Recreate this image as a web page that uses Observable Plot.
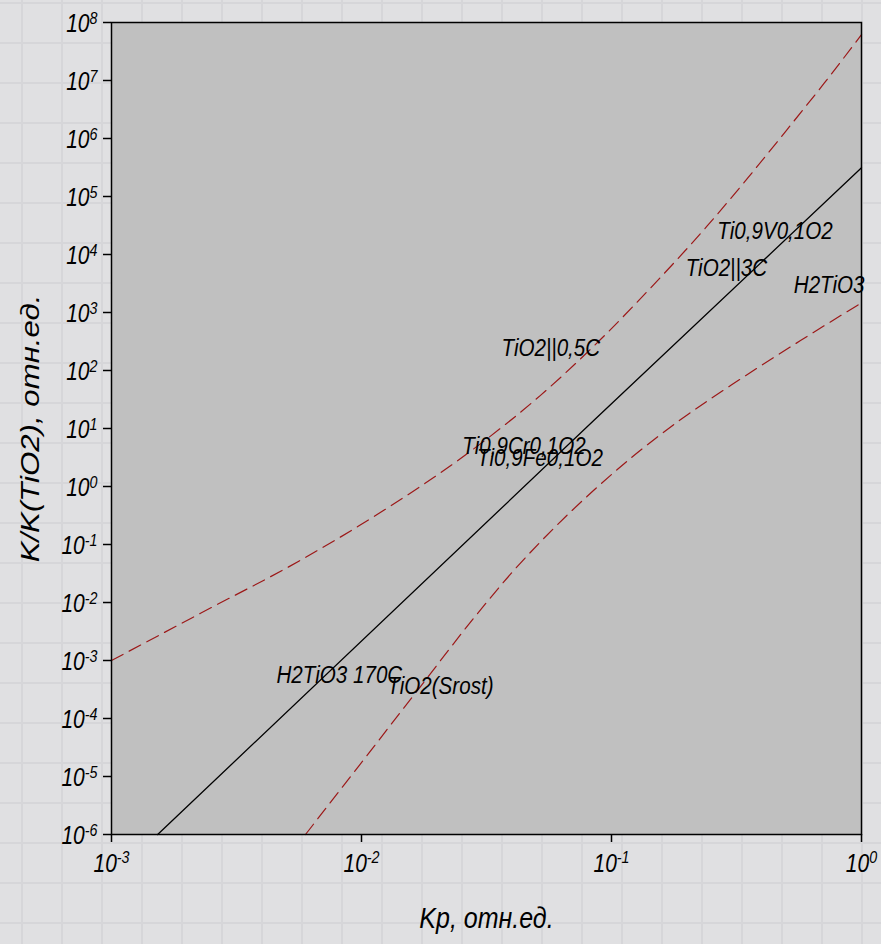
<!DOCTYPE html>
<html>
<head>
<meta charset="utf-8">
<script src="https://cdn.jsdelivr.net/npm/d3@7"></script>
<script src="https://cdn.jsdelivr.net/npm/@observablehq/plot@0.6"></script>
<style>
html, body { margin: 0; padding: 0; }
body {
  width: 881px; height: 944px; overflow: hidden;
  background-color: #e0e0e2;
  background-image:
    linear-gradient(to right, #d6d6d9 2px, transparent 2px),
    linear-gradient(to bottom, #d6d6d9 2px, transparent 2px);
  background-size: 40px 40px;
  background-position: 21px 2px;
}
#chart svg { display: block; }
</style>
</head>
<body>
<div id="chart"></div>
<script>
// Regression line K/K(TiO2) vs Kp in log–log coordinates
const fitKp = [0.00153, 0.0849, 1];
const fitK  = [1e-6, 13.7, 3.12e5];

// Upper confidence limit
const upperKp = [0.001, 0.00227, 0.005702, 0.01228, 0.02729, 0.052, 0.09036, 0.1476, 0.2414, 0.349, 0.4966, 0.7067, 1];
const upperK  = [0.001, 0.00652, 0.0535, 0.389, 4.05, 37.3, 342, 3030, 3.11e4, 2.03e5, 1.32e6, 8.81e6, 6.17e7];

// Lower confidence limit
const lowerKp = [0.00597, 0.009908, 0.01722, 0.02904, 0.04064, 0.05875, 0.08492, 0.1191, 0.1832, 0.3281, 0.5701, 1];
const lowerK  = [1e-6, 1.655e-5, 3.56e-4, 6.38e-3, 0.0356, 0.190, 0.860, 3.05, 12.9, 71.3, 328, 1469];

// Sample labels and where they sit
const labelText = ["Ti0,9V0,1O2", "TiO2||3C", "H2TiO3", "TiO2||0,5C", "Ti0,9Cr0,1O2", "Ti0,9Fe0,1O2", "H2TiO3 170C", "TiO2(Srost)"];
const labelKp   = [0.265, 0.198, 0.536, 0.0363, 0.0253, 0.0290, 0.00457, 0.01268];
const labelK    = [2.5e4, 5.85e3, 2.98e3, 244, 4.93, 3.14, 5.5e-4, 3.63e-4];

// Decade ticks
const xTicks = [1e-3, 1e-2, 1e-1, 1];
const xExp   = ["-3", "-2", "-1", "0"];
const yTicks = [1e-6, 1e-5, 1e-4, 1e-3, 1e-2, 1e-1, 1, 1e1, 1e2, 1e3, 1e4, 1e5, 1e6, 1e7, 1e8];
const yExp   = ["-6", "-5", "-4", "-3", "-2", "-1", "0", "1", "2", "3", "4", "5", "6", "7", "8"];

const xTitle = "Kp, отн.ед.";
const yTitle = "K/K(TiO2), отн.ед.";

const toRows = (xs, ys) => xs.map((v, i) => ({Kp: v, K: ys[i]}));
const fit = toRows(fitKp, fitK);
const upper = toRows(upperKp, upperK);
const lower = toRows(lowerKp, lowerK);
const labels = labelText.map((t, i) => ({text: t, Kp: labelKp[i], K: labelK[i]}));

const band = "#9c1818";
const font = {fontStyle: "italic", fill: "#000"};

const chart = Plot.plot({
  width: 881,
  height: 944,
  marginTop: 22,
  marginRight: 20,
  marginBottom: 110,
  marginLeft: 111,
  style: {background: "transparent", fontFamily: "'Liberation Sans', Arial, sans-serif", color: "#000"},
  x: {type: "log", domain: [1e-3, 1]},
  y: {type: "log", domain: [1e-6, 1e8]},
  marks: [
    Plot.frame({fill: "#c0c0c0"}),
    Plot.line(fit, {x: "Kp", y: "K", stroke: "#000", strokeWidth: 1.3}),
    Plot.line(upper, {x: "Kp", y: "K", stroke: band, strokeWidth: 1.2, strokeDasharray: "13,7", curve: "monotone-x"}),
    Plot.line(lower, {x: "Kp", y: "K", stroke: band, strokeWidth: 1.2, strokeDasharray: "13,7", curve: "monotone-x"}),
    Plot.text(labels, {x: "Kp", y: "K", text: "text", textAnchor: "start", fontSize: 20.6, ...font}),
    Plot.axisX({ticks: xTicks, tickSize: 8, tickFormat: () => "", strokeWidth: 1.5, label: null}),
    Plot.axisY({ticks: yTicks, tickSize: 8, tickFormat: () => "", strokeWidth: 1.5, label: null}),
    Plot.text(xTicks, {x: (d) => d, frameAnchor: "bottom", dy: 37.5, textAnchor: "middle", text: (d, i) => "10^" + xExp[i], fontSize: 21, ...font}),
    Plot.text(yTicks, {y: (d) => d, frameAnchor: "left", dx: -14, dy: 1.5, textAnchor: "end", text: (d, i) => "10^" + yExp[i], fontSize: 21, ...font}),
    Plot.text([xTitle], {frameAnchor: "bottom", dy: 93, textAnchor: "middle", fontSize: 25, ...font}),
    Plot.text([yTitle], {frameAnchor: "left", dx: -81, textAnchor: "middle", rotate: -90, fontSize: 26, ...font}),
    Plot.frame({stroke: "#000", strokeWidth: 1.5})
  ]
});

const root = d3.select(chart);

// Powers of ten: "10" followed by a raised exponent
root.selectAll("text").each(function () {
  const m = /^10\^(.+)$/.exec(this.textContent);
  if (!m) return;
  const t = d3.select(this);
  t.text("10");
  t.append("tspan").attr("dy", "-0.5em").attr("font-size", "0.68em").text(m[1]);
});

// Tall, narrow lettering: stretch every label vertically about its anchor
const STRETCH = 1.2;
root.selectAll("text").each(function () {
  const tr = this.getAttribute("transform");
  if (tr) {
    this.setAttribute("transform", tr.includes("rotate")
      ? tr.replace("rotate", `scale(1,${STRETCH}) rotate`)
      : `${tr} scale(1,${STRETCH})`);
  } else {
    const x = parseFloat(this.getAttribute("x")) || 0;
    const y = parseFloat(this.getAttribute("y")) || 0;
    this.setAttribute("transform", `translate(${x},${y}) scale(1,${STRETCH}) translate(${-x},${-y})`);
  }
});

document.getElementById("chart").appendChild(chart);
</script>
</body>
</html>
